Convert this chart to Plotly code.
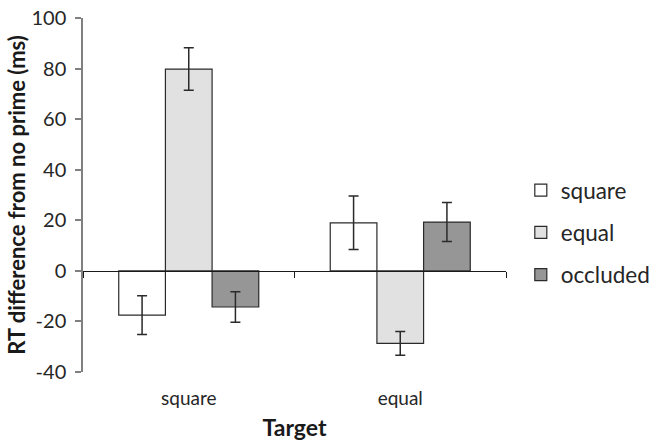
import plotly.graph_objects as go

targets = ["square", "equal"]
series_names = ["square", "equal", "occluded"]
square_vals = [-17.5, 19.0]
square_err = [7.7, 10.6]
equal_vals = [79.8, -28.7]
equal_err = [8.4, 4.7]
occluded_vals = [-14.3, 19.3]
occluded_err = [6.0, 7.7]
y_ticks = [-40, -20, 0, 20, 40, 60, 80, 100]

FONT = "Lato"
fills = ["#ffffff", "#e1e1e1", "#969696"]
vals = [square_vals, equal_vals, occluded_vals]
errs = [square_err, equal_err, occluded_err]

fig = go.Figure()
for i, name in enumerate(series_names):
    fig.add_trace(go.Bar(
        x=targets, y=vals[i], name=name, legendgroup=name,
        marker=dict(color=fills[i], line=dict(color="#2a2a2a", width=1.2)),
        error_y=dict(type="data", array=errs[i], visible=True,
                     color="#2a2a2a", thickness=1.5, width=5),
    ))

# helper trace for the zero-line axis
fig.add_trace(go.Scatter(x=targets, y=[0, 0], xaxis="x2", mode="lines",
                         line=dict(width=0), opacity=0, showlegend=False,
                         hoverinfo="skip"))

fig.update_layout(
    width=660, height=442,
    margin=dict(l=83, r=154, t=18, b=70, autoexpand=False),
    paper_bgcolor="white", plot_bgcolor="white",
    barmode="group", bargap=0.338, bargroupgap=0,
    font=dict(family=FONT, size=19, color="#262626"),
    showlegend=True,
    legend=dict(x=1.035, xanchor="left", y=0.394, yanchor="middle",
                font=dict(size=22.5, color="#262626"),
                traceorder="grouped", tracegroupgap=10,
                itemwidth=30, bgcolor="rgba(0,0,0,0)"),
    xaxis=dict(type="category", categoryarray=targets, range=[-0.5, 1.5],
               showline=False, ticks="", showgrid=False, zeroline=False,
               automargin=False, ticklabelstandoff=13,
               tickfont=dict(size=19, color="#262626"),
               title=dict(text="Target", standoff=11,
                          font=dict(size=23, weight="bold", color="#1a1a1a"))),
    xaxis2=dict(type="category", categoryarray=targets, range=[-0.5, 1.5],
                overlaying="x", anchor="free", position=40 / 140, side="bottom",
                showline=True, linecolor="#1a1a1a", linewidth=1.2,
                ticks="outside", ticklen=6, tickcolor="#1a1a1a", tickwidth=1.2,
                tickson="boundaries", showticklabels=False, showgrid=False,
                zeroline=False, automargin=False),
    yaxis=dict(range=[-40, 100], tickvals=y_ticks,
               ticktext=[str(v) for v in y_ticks],
               ticklabeloverflow="allow", ticklabelstandoff=5,
               showgrid=False, zeroline=False, automargin=False,
               showline=True, linecolor="#808080", linewidth=1.5,
               ticks="outside", ticklen=6, tickcolor="#808080", tickwidth=1.5,
               tickfont=dict(size=20, color="#262626"),
               title=dict(text="RT difference from no prime (ms)", standoff=0,
                          font=dict(size=22, weight="bold", color="#1a1a1a"))),
)

fig.write_html("out.html", config={"displayModeBar": False},
               post_script="document.body.style.margin='0';")
